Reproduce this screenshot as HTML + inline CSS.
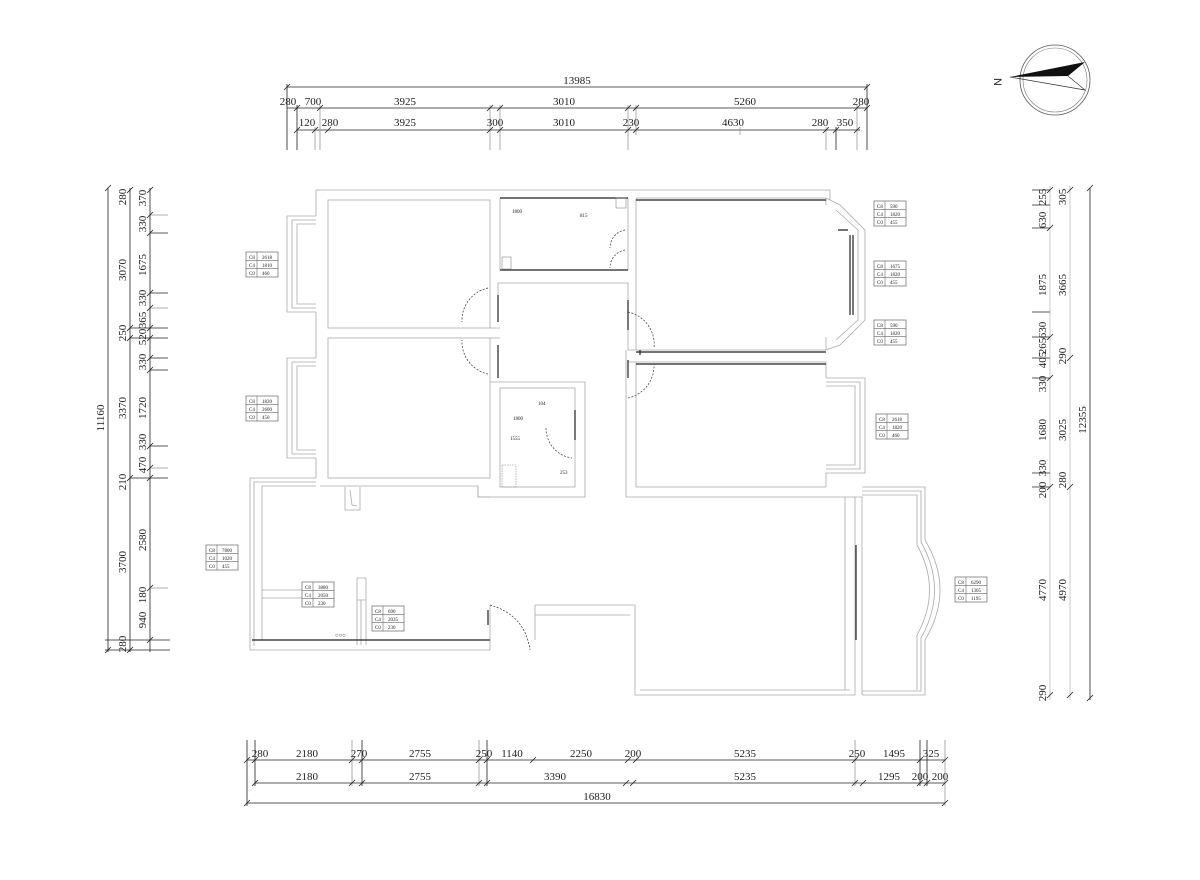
<!DOCTYPE html>
<html><head><meta charset="utf-8"><style>
html,body{margin:0;padding:0;background:#fff;width:1200px;height:880px;overflow:hidden}
svg{display:block}
text{font-family:"Liberation Serif",serif;fill:#222}
.d{font-size:11px}
.t{font-size:5px;font-family:"Liberation Sans",sans-serif;fill:#444}
</style></head><body>
<svg width="1200" height="880" viewBox="0 0 1200 880" xmlns="http://www.w3.org/2000/svg">
<defs>
<g id="tb"><rect x="0" y="0" width="32" height="25" fill="#fff" stroke="#666" stroke-width="0.7"/><line x1="0" y1="8.3" x2="32" y2="8.3" stroke="#666" stroke-width="0.6"/><line x1="0" y1="16.6" x2="32" y2="16.6" stroke="#666" stroke-width="0.6"/><line x1="11" y1="0" x2="11" y2="25" stroke="#666" stroke-width="0.6"/></g>
</defs>

<!-- compass -->
<circle cx="1055" cy="80" r="35" fill="none" stroke="#555" stroke-width="0.8"/>
<circle cx="1055" cy="80" r="32" fill="none" stroke="#777" stroke-width="0.6"/>
<polygon points="1010,77 1085,62 1068,76" fill="#111"/>
<polyline points="1010,77 1085,90 1068,76" fill="none" stroke="#333" stroke-width="0.7"/>
<text x="1000" y="80" font-size="11" transform="rotate(90 998 76)" style="font-family:'Liberation Sans',sans-serif">N</text>

<g stroke="#222" stroke-width="0.8" fill="none">
<!-- top dims -->
<line x1="287" y1="87" x2="867" y2="87"/>
<line x1="287" y1="108" x2="867" y2="108"/>
<line x1="297" y1="130" x2="860" y2="130"/>
<line x1="287" y1="84" x2="287" y2="150"/>
<line x1="867" y1="84" x2="867" y2="150"/>
<line x1="297" y1="105" x2="297" y2="150"/>
<line x1="315" y1="127" x2="315" y2="150" stroke="#999"/>
<line x1="320" y1="105" x2="320" y2="150" stroke="#999"/>
<line x1="490" y1="105" x2="490" y2="150" stroke="#999"/>
<line x1="500" y1="105" x2="500" y2="150" stroke="#999"/>
<line x1="628" y1="105" x2="628" y2="150" stroke="#999"/>
<line x1="636" y1="105" x2="636" y2="135" stroke="#999"/>
<line x1="740" y1="127" x2="740" y2="135" stroke="#999"/>
<line x1="826" y1="127" x2="826" y2="150" stroke="#999"/>
<line x1="836" y1="127" x2="836" y2="150"/>
<line x1="857" y1="105" x2="857" y2="150" stroke="#999"/>
<!-- left dims -->
<line x1="108" y1="188" x2="108" y2="652"/>
<line x1="130" y1="188" x2="130" y2="652"/>
<line x1="150" y1="188" x2="150" y2="652"/>
<line x1="105" y1="650" x2="170" y2="650"/><line x1="105" y1="640" x2="170" y2="640"/>
<line x1="150" y1="215" x2="168" y2="215" stroke="#999"/>
<line x1="150" y1="233" x2="168" y2="233"/>
<line x1="150" y1="293" x2="168" y2="293"/>
<line x1="150" y1="308" x2="168" y2="308" stroke="#999"/>
<line x1="130" y1="328" x2="168" y2="328"/>
<line x1="130" y1="338" x2="168" y2="338"/>
<line x1="150" y1="358" x2="168" y2="358"/>
<line x1="150" y1="370" x2="168" y2="370"/>
<line x1="150" y1="446" x2="168" y2="446"/>
<line x1="150" y1="468" x2="168" y2="468" stroke="#999"/>
<line x1="130" y1="478" x2="168" y2="478"/>
<line x1="150" y1="588" x2="168" y2="588" stroke="#999"/>
<!-- right dims -->
<line x1="1090" y1="188" x2="1090" y2="700"/>
<line x1="1050" y1="186" x2="1050" y2="700" stroke="#bbb"/>
<line x1="1070" y1="186" x2="1070" y2="700" stroke="#bbb"/>
<line x1="1032" y1="190" x2="1050" y2="190"/>
<line x1="1032" y1="205" x2="1050" y2="205"/>
<line x1="1032" y1="228" x2="1050" y2="228"/>
<line x1="1032" y1="312" x2="1050" y2="312"/>
<line x1="1032" y1="337" x2="1050" y2="337"/>
<line x1="1032" y1="358" x2="1050" y2="358"/>
<line x1="1032" y1="378" x2="1050" y2="378"/>
<line x1="1032" y1="473" x2="1050" y2="473"/>
<line x1="1032" y1="487" x2="1050" y2="487"/>
<!-- bottom dims -->
<line x1="247" y1="760" x2="945" y2="760"/>
<line x1="255" y1="783" x2="945" y2="783"/>
<line x1="247" y1="803" x2="945" y2="803"/>
<line x1="247" y1="740" x2="247" y2="806"/>
<line x1="255" y1="740" x2="255" y2="786"/>
<line x1="352" y1="740" x2="352" y2="786" stroke="#999"/>
<line x1="362" y1="740" x2="362" y2="786"/>
<line x1="479" y1="740" x2="479" y2="786" stroke="#999"/>
<line x1="487" y1="740" x2="487" y2="786"/>
<line x1="855" y1="740" x2="855" y2="786" stroke="#999"/>
<line x1="920" y1="740" x2="920" y2="786"/>
<line x1="927" y1="740" x2="927" y2="786"/>
<line x1="945" y1="740" x2="945" y2="806" stroke="#999"/>
</g>
<!-- ticks -->
<g stroke="#222" stroke-width="0.8">
<path d="M284,90 l6,-6 M294,111 l6,-6 M317,111 l6,-6 M487,111 l6,-6 M497,111 l6,-6 M625,111 l6,-6 M633,111 l6,-6 M854,111 l6,-6 M864,111 l6,-6 M864,90 l6,-6 M294,133 l6,-6 M312,133 l6,-6 M325,133 l6,-6 M487,133 l6,-6 M497,133 l6,-6 M625,133 l6,-6 M633,133 l6,-6 M823,133 l6,-6 M833,133 l6,-6 M854,133 l6,-6"/>
<path d="M105,191 l6,-6 M105,653 l6,-6 M127,193 l6,-6 M127,331 l6,-6 M127,341 l6,-6 M127,481 l6,-6 M127,653 l6,-6 M147,193 l6,-6 M147,218 l6,-6 M147,236 l6,-6 M147,296 l6,-6 M147,311 l6,-6 M147,331 l6,-6 M147,341 l6,-6 M147,361 l6,-6 M147,373 l6,-6 M147,449 l6,-6 M147,471 l6,-6 M147,481 l6,-6 M147,591 l6,-6 M147,643 l6,-6"/>
<path d="M1087,191 l6,-6 M1087,701 l6,-6 M1047,193 l6,-6 M1047,231 l6,-6 M1047,340 l6,-6 M1047,381 l6,-6 M1047,490 l6,-6 M1047,698 l6,-6 M1067,193 l6,-6 M1067,361 l6,-6 M1067,490 l6,-6 M1067,698 l6,-6"/>
<path d="M244,763 l6,-6 M252,763 l6,-6 M349,763 l6,-6 M359,763 l6,-6 M476,763 l6,-6 M484,763 l6,-6 M530,763 l6,-6 M625,763 l6,-6 M633,763 l6,-6 M852,763 l6,-6 M917,763 l6,-6 M942,763 l6,-6 M252,786 l6,-6 M349,786 l6,-6 M359,786 l6,-6 M476,786 l6,-6 M484,786 l6,-6 M623,786 l6,-6 M630,786 l6,-6 M852,786 l6,-6 M860,786 l6,-6 M917,786 l6,-6 M924,786 l6,-6 M942,786 l6,-6 M244,806 l6,-6 M942,806 l6,-6"/>
</g>

<!-- dim text -->
<g class="d" text-anchor="middle">
<text x="577" y="84">13985</text>
<text x="288" y="105">280</text><text x="313" y="105">700</text><text x="405" y="105">3925</text><text x="564" y="105">3010</text><text x="745" y="105">5260</text><text x="861" y="105">280</text>
<text x="307" y="126">120</text><text x="330" y="126">280</text><text x="405" y="126">3925</text><text x="495" y="126">300</text><text x="564" y="126">3010</text><text x="631" y="126">230</text><text x="733" y="126">4630</text><text x="820" y="126">280</text><text x="845" y="126">350</text>
<text x="260" y="757">280</text><text x="307" y="757">2180</text><text x="359" y="757">270</text><text x="420" y="757">2755</text><text x="484" y="757">250</text><text x="512" y="757">1140</text><text x="581" y="757">2250</text><text x="633" y="757">200</text><text x="745" y="757">5235</text><text x="857" y="757">250</text><text x="894" y="757">1495</text><text x="931" y="757">325</text>
<text x="307" y="780">2180</text><text x="420" y="780">2755</text><text x="555" y="780">3390</text><text x="745" y="780">5235</text><text x="889" y="780">1295</text><text x="920" y="780">200</text><text x="940" y="780">200</text>
<text x="597" y="800">16830</text>
</g>
<g class="d" text-anchor="middle">
<text transform="translate(104,418) rotate(-90)">11160</text>
<text transform="translate(126,197) rotate(-90)">280</text>
<text transform="translate(126,270) rotate(-90)">3070</text>
<text transform="translate(126,333) rotate(-90)">250</text>
<text transform="translate(126,408) rotate(-90)">3370</text>
<text transform="translate(126,482) rotate(-90)">210</text>
<text transform="translate(126,562) rotate(-90)">3700</text>
<text transform="translate(126,644) rotate(-90)">280</text>
<text transform="translate(146,198) rotate(-90)">370</text>
<text transform="translate(146,224) rotate(-90)">330</text>
<text transform="translate(146,265) rotate(-90)">1675</text>
<text transform="translate(146,298) rotate(-90)">330</text>
<text transform="translate(146,320) rotate(-90)">365</text>
<text transform="translate(146,337) rotate(-90)">520</text>
<text transform="translate(146,362) rotate(-90)">330</text>
<text transform="translate(146,408) rotate(-90)">1720</text>
<text transform="translate(146,442) rotate(-90)">330</text>
<text transform="translate(146,465) rotate(-90)">470</text>
<text transform="translate(146,540) rotate(-90)">2580</text>
<text transform="translate(146,595) rotate(-90)">180</text>
<text transform="translate(146,620) rotate(-90)">940</text>
<text transform="translate(1046,197) rotate(-90)">255</text>
<text transform="translate(1046,220) rotate(-90)">630</text>
<text transform="translate(1046,285) rotate(-90)">1875</text>
<text transform="translate(1046,330) rotate(-90)">630</text>
<text transform="translate(1046,346) rotate(-90)">265</text>
<text transform="translate(1046,360) rotate(-90)">405</text>
<text transform="translate(1046,384) rotate(-90)">330</text>
<text transform="translate(1046,430) rotate(-90)">1680</text>
<text transform="translate(1046,468) rotate(-90)">330</text>
<text transform="translate(1046,490) rotate(-90)">200</text>
<text transform="translate(1046,590) rotate(-90)">4770</text>
<text transform="translate(1046,693) rotate(-90)">290</text>
<text transform="translate(1066,197) rotate(-90)">305</text>
<text transform="translate(1066,285) rotate(-90)">3665</text>
<text transform="translate(1066,356) rotate(-90)">290</text>
<text transform="translate(1066,430) rotate(-90)">3025</text>
<text transform="translate(1066,480) rotate(-90)">280</text>
<text transform="translate(1066,590) rotate(-90)">4970</text>
<text transform="translate(1086,420) rotate(-90)">12355</text>
</g>

<!-- walls -->
<g stroke="#aaa" stroke-width="0.8" fill="none">
<!-- outer top-left -->
<path d="M316,190 H830 V200"/>
<path d="M316,190 V216 M316,312 V358 M316,458 V478"/>
<rect x="328" y="200" width="162" height="128"/>
<rect x="328" y="338" width="162" height="140"/>
<path d="M490,328 H500 M490,338 H500"/>
<rect x="500" y="198" width="128" height="72"/>
<path d="M498,283 H628 V350 M498,283 V322"/>
<path d="M490,382 H585 V497 H478 V487"/>
<rect x="500" y="388" width="75" height="99"/>
<path d="M636,198 H826 V205 M636,198 V350 H826 V337 M636,362 H826 V378 M636,362 V487 H826 V473 M626,350 V497 H855"/>
<path d="M628,350 H636 M628,362 H636"/>
<!-- left windows -->
<path d="M316,216 H287 V312 H316 M316,220 H292 V308 H316 M316,224 H297 V304 H316"/>
<path d="M316,358 H287 V458 H316 M316,362 H292 V454 H316 M316,366 H297 V450 H316"/>
<!-- right windows -->
<path d="M826,378 H865 V473 H826 M826,382 H860 V469 H826 M826,386 H855 V465 H826"/>
<path d="M826,198 L840,205 L865,230 V320 L840,345 L826,350"/>
<path d="M836,210 L858,230 V320 L836,340"/>
<!-- living -->
<path d="M316,478 H250 V650 H490 V605 M316,482 H254 V646 M316,486 H262 V640"/>
<path d="M320,486 H478 V497 H490"/>
<path d="M535,605 H635 V695 H855 V497 M535,605 V640 M535,615 H630 M640,690 H850 M855,497 H862 V695 M845,497 V690"/>
<!-- balcony -->
<path d="M862,487 H925 V540 Q955,590 925,640 V695 H862 M862,491 H921 V542 Q948,590 921,638 V691 H862 M862,495 H917 V545 Q942,590 917,635 V690"/>
<path d="M262,590 H303 V598 H262"/>
<path d="M357,578 V645 M366,578 V645 M357,578 H366 M357,600 H366 M361,600 V645"/>
<path d="M345,487 V510 H360 V487 M350,490 L352,505 L357,506"/>
</g>
<!-- dark lines -->
<g stroke="#222" stroke-width="1.2" fill="none">
<path d="M252,640 H490"/>
<path d="M856,545 V640"/>
<path d="M498,295 V322 M498,345 V378 M628,300 V330 M628,360 V378"/>
<path d="M636,200 H826 M636,352 H826 M636,364 H826 M640,350 V355"/>
<path d="M838,230 H848 M850,235 V315 M853,235 V315"/>
<path d="M488,610 V625 M575,410 V440"/>
<path d="M500,198 H628 M500,270 H628"/>
</g>
<!-- door arcs -->
<g stroke="#333" stroke-width="0.7" fill="none" stroke-dasharray="2,1.5">
<path d="M488,288 A33,33 0 0 0 462,322"/>
<path d="M488,374 A33,33 0 0 1 462,340"/>
<path d="M628,312 A33,33 0 0 1 654,348"/>
<path d="M628,398 A33,33 0 0 0 654,364"/>
<path d="M625,230 A18,18 0 0 0 610,248 M625,250 A18,18 0 0 0 610,268"/>
<path d="M546,428 A30,30 0 0 0 572,458"/>
<path d="M490,605 Q525,615 530,650"/>
</g>
<!-- small marks -->
<g class="t"><text x="512" y="213">1800</text><text x="580" y="217">815</text><text x="538" y="405">104</text><text x="513" y="420">1800</text><text x="510" y="440">1555</text><text x="560" y="474">253</text></g>
<rect x="616" y="198" width="10" height="10" fill="none" stroke="#888" stroke-width="0.6"/>
<rect x="502" y="257" width="9" height="12" fill="none" stroke="#888" stroke-width="0.6"/>
<rect x="502" y="465" width="14" height="22" fill="none" stroke="#888" stroke-width="0.6" stroke-dasharray="1.5,1"/>
<text x="335" y="637" font-size="6" fill="#444" style="font-family:'Liberation Sans',sans-serif">○○○</text>

<!-- tables -->
<use href="#tb" x="246" y="252"/><g class="t"><text x="249" y="259">C8</text><text x="262" y="259">2618</text><text x="249" y="267">C4</text><text x="262" y="267">1810</text><text x="249" y="275">C0</text><text x="262" y="275">460</text></g>
<use href="#tb" x="246" y="396"/><g class="t"><text x="249" y="403">C8</text><text x="262" y="403">1820</text><text x="249" y="411">C4</text><text x="262" y="411">2600</text><text x="249" y="419">C0</text><text x="262" y="419">450</text></g>
<use href="#tb" x="206" y="545"/><g class="t"><text x="209" y="552">C8</text><text x="222" y="552">7800</text><text x="209" y="560">C4</text><text x="222" y="560">1020</text><text x="209" y="568">C0</text><text x="222" y="568">455</text></g>
<use href="#tb" x="302" y="582"/><g class="t"><text x="305" y="589">C8</text><text x="318" y="589">3880</text><text x="305" y="597">C4</text><text x="318" y="597">2050</text><text x="305" y="605">C0</text><text x="318" y="605">230</text></g>
<use href="#tb" x="372" y="606"/><g class="t"><text x="375" y="613">C8</text><text x="388" y="613">690</text><text x="375" y="621">C4</text><text x="388" y="621">2035</text><text x="375" y="629">C0</text><text x="388" y="629">230</text></g>
<use href="#tb" x="874" y="201"/><g class="t"><text x="877" y="208">C8</text><text x="890" y="208">590</text><text x="877" y="216">C4</text><text x="890" y="216">1820</text><text x="877" y="224">C0</text><text x="890" y="224">455</text></g>
<use href="#tb" x="874" y="261"/><g class="t"><text x="877" y="268">C8</text><text x="890" y="268">1675</text><text x="877" y="276">C4</text><text x="890" y="276">1820</text><text x="877" y="284">C0</text><text x="890" y="284">455</text></g>
<use href="#tb" x="874" y="320"/><g class="t"><text x="877" y="327">C8</text><text x="890" y="327">590</text><text x="877" y="335">C4</text><text x="890" y="335">1820</text><text x="877" y="343">C0</text><text x="890" y="343">455</text></g>
<use href="#tb" x="876" y="414"/><g class="t"><text x="879" y="421">C8</text><text x="892" y="421">2618</text><text x="879" y="429">C4</text><text x="892" y="429">1820</text><text x="879" y="437">C0</text><text x="892" y="437">460</text></g>
<use href="#tb" x="955" y="577"/><g class="t"><text x="958" y="584">C8</text><text x="971" y="584">6290</text><text x="958" y="592">C4</text><text x="971" y="592">1305</text><text x="958" y="600">C0</text><text x="971" y="600">1195</text></g>
</svg>
</body></html>
